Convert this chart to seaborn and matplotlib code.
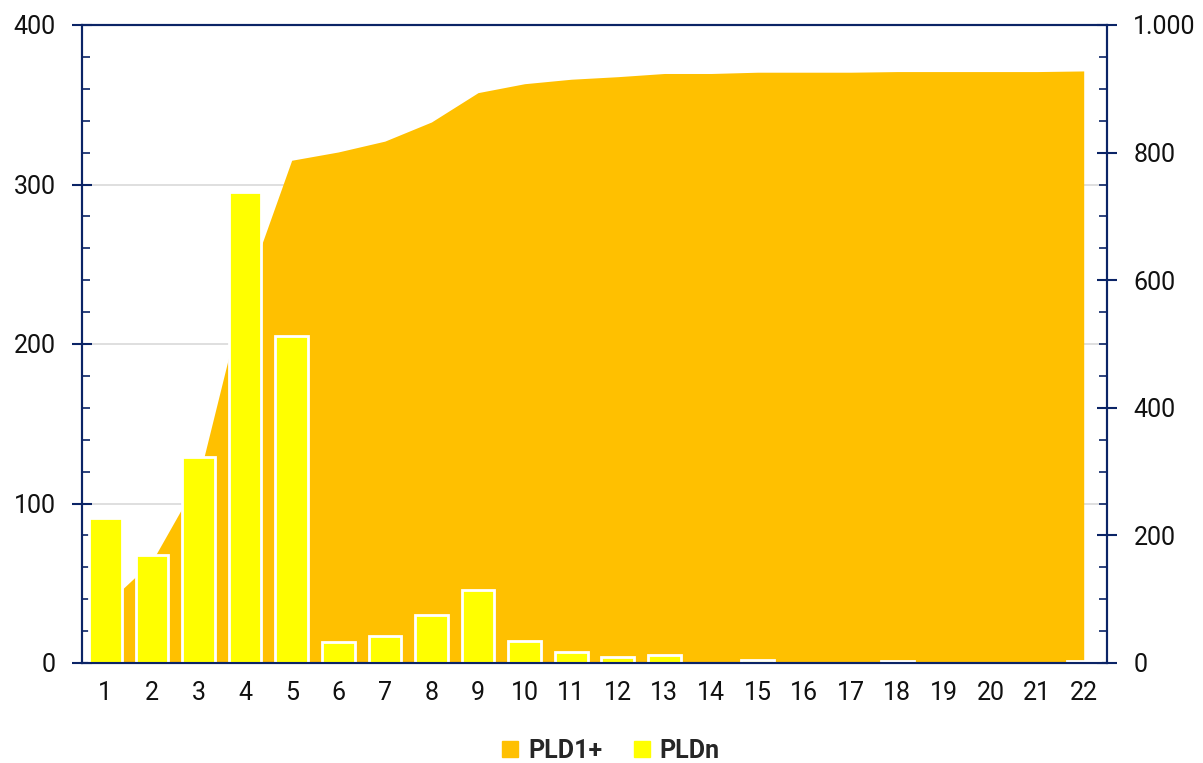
import matplotlib
matplotlib.use("Agg")
import matplotlib.pyplot as plt
from matplotlib.lines import Line2D
from matplotlib.ticker import MultipleLocator, FuncFormatter
import seaborn as sns
import pandas as pd
import numpy as np

categories = [str(i) for i in range(1, 23)]
pldn = [91, 68, 129, 295, 205, 13, 17, 30, 46, 14, 7, 4, 5, 0, 2, 0, 0, 1, 0, 0, 0, 1]
pld1plus = [91, 159, 288, 583, 788, 801, 818, 848, 894, 908, 915, 919, 924, 924,
            926, 926, 926, 927, 927, 927, 927, 928]

AREA = "#FFC000"
BAR = "#FFFF00"
NAVY = "#0B2466"

sns.set_theme(style="white")
plt.rcParams["font.family"] = ["Roboto", "DejaVu Sans"]

df = pd.DataFrame({"cat": categories, "PLDn": pldn, "PLD1+": pld1plus})

fig = plt.figure(figsize=(12.03, 7.63), dpi=100)
ax = fig.add_axes([82 / 1203, 1 - 663 / 763, (1107 - 82) / 1203, (663 - 25) / 763])
ax2 = ax.twinx()

# area on right axis (drawn below bars)
xpos = np.arange(len(categories))
for gy in [250, 500, 750]:
    ax2.axhline(gy, color="#D9D9D9", lw=1.2, zorder=0)
ax2.fill_between(xpos, 0, df["PLD1+"], color=AREA, lw=0, zorder=1)
ax2.set_ylim(0, 1000)

ax.set_zorder(ax2.get_zorder() + 1)
ax.patch.set_visible(False)

sns.barplot(data=df, x="cat", y="PLDn", ax=ax, color=BAR, saturation=1,
            width=0.7, edgecolor="white", linewidth=2)
ax.set_ylim(0, 400)
ax.set_xlim(-0.5, 21.5)
ax.set_xlabel("")
ax.set_ylabel("")

for a in (ax, ax2):
    for s in a.spines.values():
        s.set_color(NAVY)
        s.set_linewidth(1.5)
    a.grid(False)

ax.yaxis.set_major_locator(MultipleLocator(100))
ax.yaxis.set_minor_locator(MultipleLocator(20))
ax.tick_params(axis="y", which="major", direction="inout", length=14, width=1.5,
               color=NAVY, labelsize=18, labelcolor="#111111", pad=12, left=True)
ax.tick_params(axis="y", which="minor", direction="in", length=6, width=1.2,
               color=NAVY, left=True)
ax.tick_params(axis="x", which="both", length=0, labelsize=18, pad=13, labelcolor="#111111")

ax2.yaxis.set_major_locator(MultipleLocator(200))
ax2.yaxis.set_minor_locator(MultipleLocator(50))
ax2.yaxis.set_major_formatter(FuncFormatter(lambda v, p: f"{int(v):,}".replace(",", ".")))
ax2.tick_params(axis="y", which="major", direction="inout", length=14, width=1.5,
                color=NAVY, labelsize=18, labelcolor="#111111", pad=12, right=True)
ax2.tick_params(axis="y", which="minor", direction="in", length=6, width=1.2,
                color=NAVY, right=True)
ax2.set_ylabel("")

handles = [Line2D([], [], marker="s", linestyle="", markersize=11, color=AREA, label="PLD1+"),
           Line2D([], [], marker="s", linestyle="", markersize=11, color=BAR, label="PLDn")]
leg = fig.legend(handles=handles, loc="center", bbox_to_anchor=(610 / 1203, 1 - 751 / 763),
                 ncol=2, frameon=False, handlelength=0.8, handletextpad=0.3,
                 columnspacing=1.2, prop={"weight": "bold", "size": 18})

fig.savefig("out.png", dpi=100)
